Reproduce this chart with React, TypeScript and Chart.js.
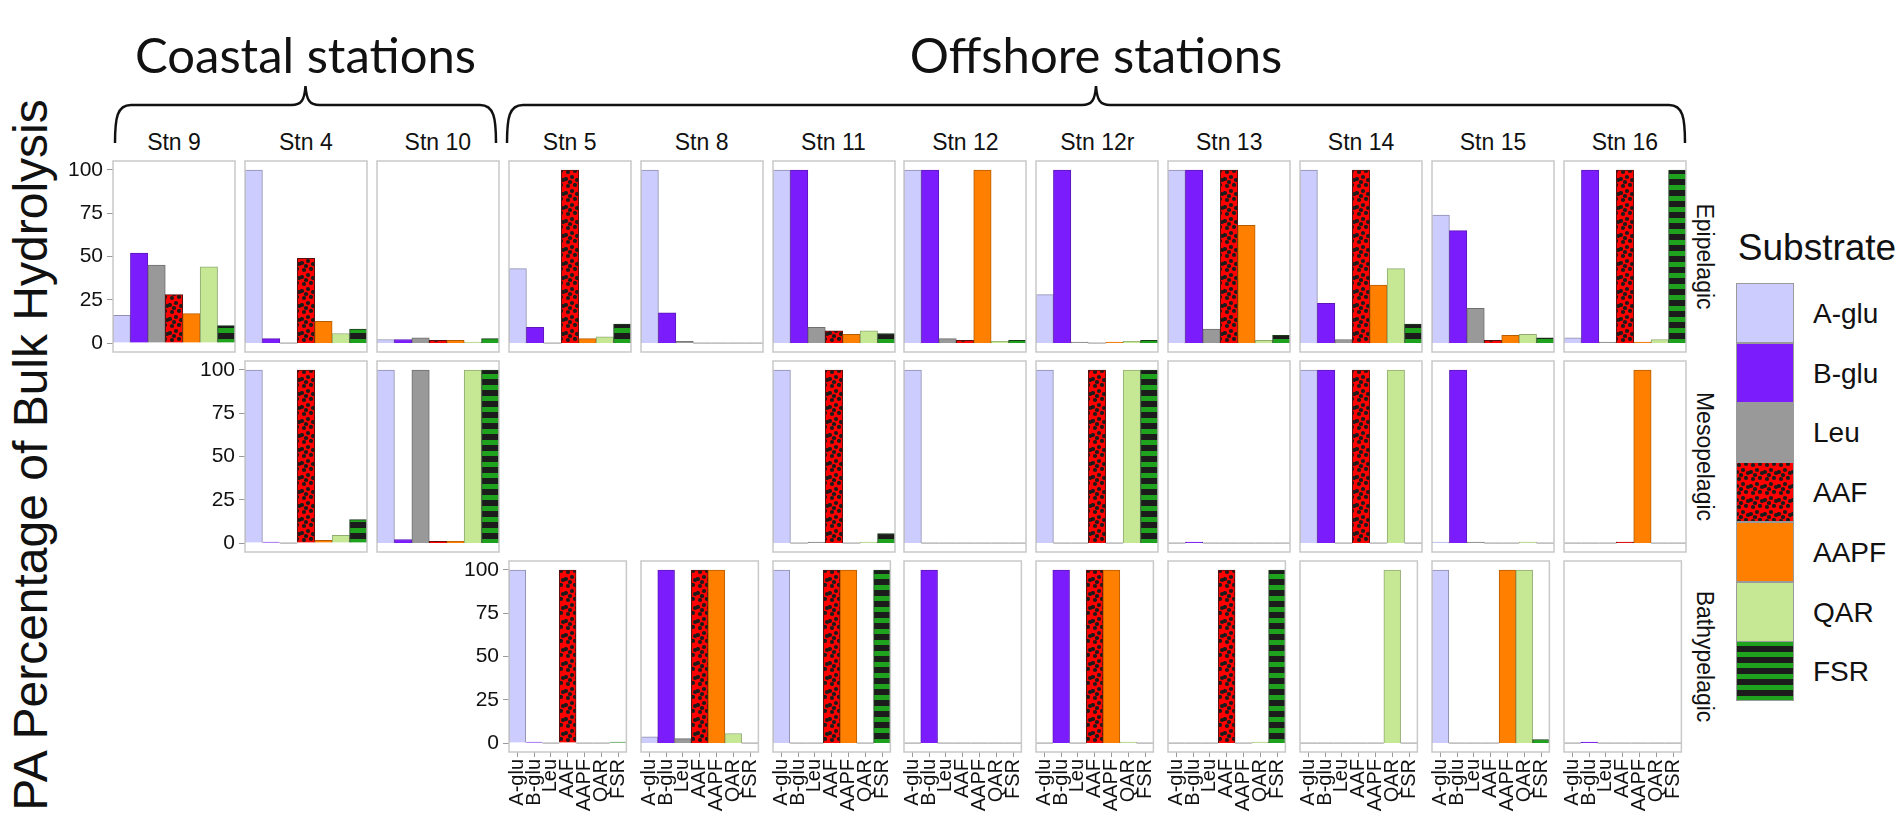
import { useEffect, useRef } from "react"
import { Chart, registerables } from "chart.js"

Chart.register(...registerables)

const FONT = "'Liberation Sans', Arial, sans-serif"
Chart.defaults.font.family = FONT

const substrates = ["A-glu", "B-glu", "Leu", "AAF", "AAPF", "QAR", "FSR"]
const stations = ["Stn 9", "Stn 4", "Stn 10", "Stn 5", "Stn 8", "Stn 11", "Stn 12", "Stn 12r", "Stn 13", "Stn 14", "Stn 15", "Stn 16"]
const depths = ["Epipelagic", "Mesopelagic", "Bathypelagic"]
const yTicks = [0, 25, 50, 75, 100]

// % of bulk hydrolysis per substrate, one row per station (null = no sample)
const epipelagic = [
  [16, 52, 45, 28, 17, 44, 10],
  [100, 2.5, 0, 49, 12.5, 5.5, 8],
  [2, 2, 3, 1.5, 1.5, 0.5, 2.5],
  [43, 9, 0, 100, 2.5, 3.5, 11],
  [100, 17.5, 1, 0, 0, 0, 0],
  [100, 100, 9, 7, 5, 7, 5.5],
  [100, 100, 2.5, 1.5, 100, 1, 1.5],
  [28, 100, 0.5, 0, 0.5, 1, 1.5],
  [100, 100, 8, 100, 68, 1.5, 4.5],
  [100, 23, 2, 100, 33.5, 43, 11],
  [74, 65, 20, 1.5, 4.5, 5, 3],
  [3, 100, 0.5, 100, 0.5, 2, 100],
]
const mesopelagic = [
  null,
  [100, 0.5, 0, 100, 1.5, 4.5, 13.5],
  [100, 2, 100, 1, 1, 100, 100],
  null,
  null,
  [100, 0, 0.5, 100, 0, 0.5, 5.5],
  [100, 0, 0, 0, 0, 0, 0],
  [100, 0, 0, 100, 0, 100, 100],
  [0, 0.5, 0, 0, 0, 0, 0],
  [100, 100, 0, 100, 0, 100, 0],
  [0.5, 100, 0.3, 0, 0, 0.3, 0],
  [0, 0, 0, 0.5, 100, 0, 0],
]
const bathypelagic = [
  null,
  null,
  null,
  [100, 0.5, 0, 100, 0, 0, 0.5],
  [3.5, 100, 2.5, 100, 100, 5.5, 0],
  [100, 0, 0, 100, 100, 0, 100],
  [0, 100, 0, 0, 0, 0, 0],
  [0, 100, 0, 100, 100, 0.3, 0],
  [0, 0, 0, 100, 0, 0.3, 100],
  [0, 0, 0, 0, 0, 100, 0],
  [100, 0, 0, 0, 100, 100, 2],
  [0, 0.5, 0, 0, 0, 0, 0],
]
const depthValues = [epipelagic, mesopelagic, bathypelagic]

const fillColors = ["#ccccff", "#7b1cfc", "#999999", "#ff0000", "#ff8000", "#c6e894", "#1fa31f"]
const borderColors = ["#8f8fb0", "#5b17b8", "#6f6f6f", "#5a1010", "#b85c00", "#90ac74", "#1a3a1a"]
const ZERO_COLOR = "#a0a0a0"

// layout in px
const PANEL_LEFT = 113
const PANEL_STEP = 131.9
const PANEL_W = 122
const PANEL_TOP = 161
const ROW_STEP = 200
const PANEL_H = 191
const PAD_L = 70
const PAD_T = 20
const PAD_R = 14
const PAD_B = 75
const Y_MIN = -5.2
const Y_MAX = 105.2

let fillCache: (string | CanvasPattern)[] | null = null

// AAF gets black dots on red, FSR black/green stripes
function barFills() {
  if (fillCache) return fillCache
  const fills: (string | CanvasPattern)[] = [...fillColors]

  const dots = document.createElement("canvas")
  dots.width = 14
  dots.height = 14
  const d = dots.getContext("2d")
  if (d) {
    d.fillStyle = fillColors[3]
    d.fillRect(0, 0, 14, 14)
    d.fillStyle = "#1c1c1c"
    const pts = [[3, 3], [10, 2], [7, 8], [1, 10], [12, 11], [5, 13]]
    for (const [x, y] of pts) {
      for (const dx of [-14, 0, 14]) {
        for (const dy of [-14, 0, 14]) {
          d.beginPath()
          d.arc(x + dx, y + dy, 2.1, 0, Math.PI * 2)
          d.fill()
        }
      }
    }
    const p = d.createPattern(dots, "repeat")
    if (p) fills[3] = p
  }

  const stripes = document.createElement("canvas")
  stripes.width = 4
  stripes.height = 11
  const s = stripes.getContext("2d")
  if (s) {
    s.fillStyle = fillColors[6]
    s.fillRect(0, 0, 4, 5)
    s.fillStyle = "#1c1c1c"
    s.fillRect(0, 5, 4, 6)
    const p = s.createPattern(stripes, "repeat")
    if (p) fills[6] = p
  }

  fillCache = fills
  return fills
}

const panelFrame = {
  id: "panelFrame",
  afterDatasetsDraw(chart: Chart) {
    const { ctx, chartArea } = chart
    ctx.save()
    ctx.strokeStyle = "#c9c9c9"
    ctx.lineWidth = 1.5
    ctx.strokeRect(chartArea.left, chartArea.top, chartArea.right - chartArea.left, chartArea.bottom - chartArea.top)
    ctx.restore()
  },
}

function firstCol(row: number) {
  return depthValues[row].findIndex((v) => v !== null)
}

function Panel({ col, row, values }: { col: number; row: number; values: number[] }) {
  const ref = useRef<HTMLCanvasElement>(null)
  const showY = col === firstCol(row)
  const showX = row === 2
  const w = PANEL_W + PAD_L + PAD_R
  const h = PANEL_H + PAD_T + PAD_B

  useEffect(() => {
    if (!ref.current) return
    const fills = barFills()
    const chart = new Chart(ref.current, {
      type: "bar",
      data: {
        labels: substrates,
        datasets: [
          {
            data: values,
            backgroundColor: values.map((v, i) => (v === 0 ? ZERO_COLOR : fills[i])),
            borderColor: values.map((v, i) => (v === 0 ? ZERO_COLOR : borderColors[i])),
            borderWidth: 1,
            barPercentage: 1,
            categoryPercentage: 1,
            minBarLength: 1,
          },
        ],
      },
      options: {
        animation: false,
        responsive: false,
        events: [],
        layout: {
          padding: { left: showY ? 0 : PAD_L, top: PAD_T, right: PAD_R, bottom: showX ? 0 : PAD_B },
        },
        plugins: { legend: { display: false }, tooltip: { enabled: false } },
        scales: {
          x: {
            display: showX,
            offset: true,
            border: { display: false },
            grid: { offset: false, drawOnChartArea: false, color: "#9a9a9a", tickLength: 5 },
            ticks: {
              autoSkip: false,
              minRotation: 90,
              maxRotation: 90,
              padding: 2,
              color: "#111",
              font: { size: 20 },
            },
            afterFit: showX
              ? (s) => {
                  s.height = PAD_B
                }
              : undefined,
          },
          y: {
            display: showY,
            min: Y_MIN,
            max: Y_MAX,
            border: { display: false },
            grid: { drawOnChartArea: false, color: "#9a9a9a", tickLength: 6 },
            ticks: { padding: 4, color: "#111", font: { size: 21 } },
            afterBuildTicks: (s) => {
              s.ticks = yTicks.map((v) => ({ value: v }))
            },
            afterFit: showY
              ? (s) => {
                  s.width = PAD_L
                }
              : undefined,
          },
        },
      },
      plugins: [panelFrame],
    })
    return () => chart.destroy()
  }, [])

  return (
    <canvas
      ref={ref}
      width={w}
      height={h}
      style={{
        position: "absolute",
        left: PANEL_LEFT + col * PANEL_STEP - PAD_L,
        top: PANEL_TOP + row * ROW_STEP - PAD_T,
        width: w,
        height: h,
      }}
    />
  )
}

function Swatch({ index }: { index: number }) {
  const ref = useRef<HTMLCanvasElement>(null)
  useEffect(() => {
    const ctx = ref.current?.getContext("2d")
    if (!ctx) return
    ctx.fillStyle = barFills()[index]
    ctx.fillRect(0, 0, 58, 60)
    ctx.strokeStyle = "#9a9a9a"
    ctx.lineWidth = 1
    ctx.strokeRect(0.5, 0.5, 57, 59)
  }, [])
  return (
    <canvas
      ref={ref}
      width={58}
      height={60}
      style={{ position: "absolute", left: 1736, top: 283 + index * 59.7 }}
    />
  )
}

function brace(x1: number, x2: number) {
  const xc = (x1 + x2) / 2
  return `M ${x1} 143 C ${x1} 118, ${x1 + 2} 105, ${x1 + 16} 105 L ${xc - 14} 105 C ${xc - 4} 105, ${xc - 1} 100, ${xc} 86 C ${xc + 1} 100, ${xc + 4} 105, ${xc + 14} 105 L ${x2 - 16} 105 C ${x2 - 2} 105, ${x2} 118, ${x2} 143`
}

export default function App() {
  const lastRight = PANEL_LEFT + 11 * PANEL_STEP + PANEL_W
  return (
    <div
      style={{
        position: "absolute",
        left: 0,
        top: 0,
        width: 1902,
        height: 823,
        background: "#fff",
        overflow: "hidden",
        fontFamily: FONT,
      }}
    >
      <svg width={1902} height={823} style={{ position: "absolute", left: 0, top: 0 }}>
        <path d={brace(115, 496)} fill="none" stroke="#111" strokeWidth={2.5} />
        <path d={brace(507, 1685)} fill="none" stroke="#111" strokeWidth={2.5} />
        <text x={305.5} y={73} textAnchor="middle" fontFamily="Lato, 'Open Sans', sans-serif" fontSize={49} fill="#111">
          Coastal stations
        </text>
        <text x={1096} y={73} textAnchor="middle" fontFamily="Lato, 'Open Sans', sans-serif" fontSize={49} fill="#111">
          Offshore stations
        </text>
        {stations.map((s, i) => (
          <text key={s} x={PANEL_LEFT + i * PANEL_STEP + PANEL_W / 2} y={150} textAnchor="middle" fontSize={23} fill="#111">
            {s}
          </text>
        ))}
        {depths.map((d, r) => (
          <text
            key={d}
            transform={`translate(${lastRight + 11}, ${PANEL_TOP + r * ROW_STEP + PANEL_H / 2}) rotate(90)`}
            textAnchor="middle"
            fontSize={23}
            fill="#111"
          >
            {d}
          </text>
        ))}
        <text transform="translate(47, 455) rotate(-90)" textAnchor="middle" fontSize={48} fill="#111">
          PA Percentage of Bulk Hydrolysis
        </text>
        <text x={1817} y={260} textAnchor="middle" fontSize={37} fill="#111">
          Substrate
        </text>
        {substrates.map((s, i) => (
          <text key={s} x={1813} y={283 + i * 59.7 + 30 + 10} fontSize={28} fill="#111">
            {s}
          </text>
        ))}
      </svg>
      {depthValues.map((rowVals, r) =>
        rowVals.map((vals, c) => (vals ? <Panel key={`${r}-${c}`} col={c} row={r} values={vals} /> : null))
      )}
      {substrates.map((s, i) => (
        <Swatch key={s} index={i} />
      ))}
    </div>
  )
}
